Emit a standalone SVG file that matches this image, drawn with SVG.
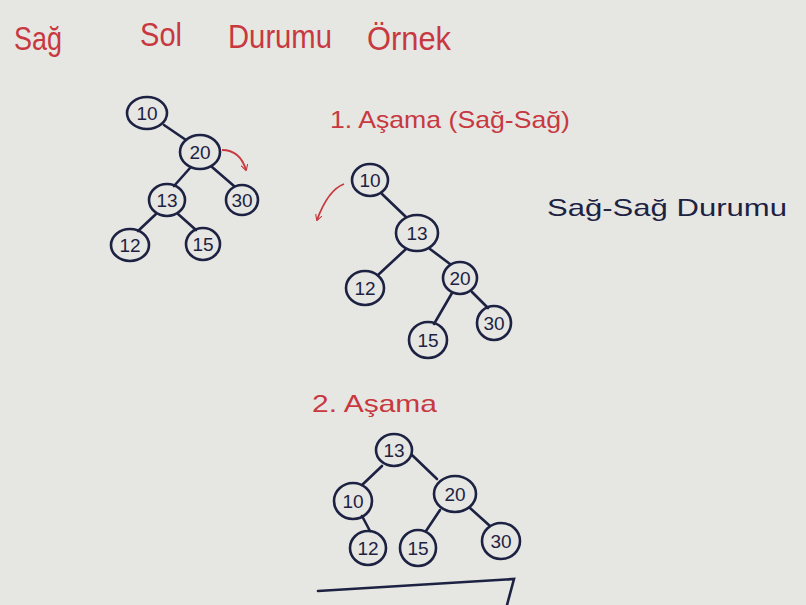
<svg xmlns="http://www.w3.org/2000/svg" width="806" height="605" viewBox="0 0 806 605">
<defs>
<marker id="ah" viewBox="0 0 10 10" refX="8" refY="5" markerWidth="7" markerHeight="7" orient="auto-start-reverse" markerUnits="userSpaceOnUse">
<path d="M0,0 L9,5 L0,10" fill="none" stroke="#c8383f" stroke-width="1.6"/>
</marker>
<style>
.bg{fill:#e6e6e3}
.n ellipse{fill:none;stroke:#1d2242;stroke-width:2.6}
.n text{font-family:"Liberation Sans",Arial,sans-serif;font-size:19px;fill:#1d2242;text-anchor:middle;dominant-baseline:central}
.e line,.e path{stroke:#1d2242;stroke-width:2.6;fill:none;stroke-linecap:round}
.red{font-family:"Liberation Sans",Arial,sans-serif;fill:#c8383f}
.blue{font-family:"Liberation Sans",Arial,sans-serif;fill:#1d2242}
.arr{fill:none;stroke:#c8383f;stroke-width:1.8;marker-end:url(#ah)}
</style>
</defs>
<rect class="bg" x="0" y="0" width="806" height="605"/>
<g id="title">
<text class="red" x="14" y="50" font-size="34" textLength="48" lengthAdjust="spacingAndGlyphs">Sağ</text>
<text class="red" x="140" y="46" font-size="34" textLength="42" lengthAdjust="spacingAndGlyphs">Sol</text>
<text class="red" x="228" y="48" font-size="34" textLength="104" lengthAdjust="spacingAndGlyphs">Durumu</text>
<text class="red" x="367" y="50" font-size="34" textLength="84" lengthAdjust="spacingAndGlyphs">Örnek</text>
</g>
<g id="label1"><text class="red" x="330" y="128" font-size="24" textLength="240" lengthAdjust="spacingAndGlyphs">1. Aşama (Sağ-Sağ)</text></g>
<g id="label2"><text class="blue" x="547" y="216" font-size="24" textLength="240" lengthAdjust="spacingAndGlyphs">Sağ-Sağ Durumu</text></g>
<g id="label3"><text class="red" x="312" y="412" font-size="24" textLength="125" lengthAdjust="spacingAndGlyphs">2. Aşama</text></g>
<g id="connectors" class="e">
<line x1="164" y1="125" x2="186" y2="140"/>
<line x1="190" y1="168" x2="174" y2="186"/>
<line x1="212" y1="167" x2="234" y2="186"/>
<line x1="156" y1="214" x2="138" y2="231"/>
<line x1="178" y1="214" x2="196" y2="230"/>
<line x1="382" y1="194" x2="406" y2="217"/>
<line x1="406" y1="249" x2="378" y2="275"/>
<line x1="430" y1="249" x2="450" y2="264"/>
<line x1="452" y1="293" x2="434" y2="324"/>
<line x1="472" y1="292" x2="488" y2="308"/>
<line x1="382" y1="466" x2="362" y2="485"/>
<line x1="412" y1="455" x2="437" y2="479"/>
<line x1="362" y1="516" x2="370" y2="531"/>
<line x1="440" y1="510" x2="426" y2="531"/>
<line x1="470" y1="508" x2="490" y2="526"/>
<path d="M318,591 L514,579 L507,605"/>
</g>
<g id="arrows">
<path class="arr" d="M222,150 Q240,150 246,170"/>
<path class="arr" d="M344,184 Q328,190 317,220"/>
</g>
<g id="t1-10" class="n"><ellipse cx="147" cy="113" rx="20" ry="16"/><text x="147" y="113">10</text></g>
<g id="t1-20" class="n"><ellipse cx="200" cy="152" rx="20" ry="17"/><text x="200" y="152">20</text></g>
<g id="t1-13" class="n"><ellipse cx="167" cy="200" rx="18" ry="16"/><text x="167" y="200">13</text></g>
<g id="t1-30" class="n"><ellipse cx="242" cy="200" rx="16" ry="15"/><text x="242" y="200">30</text></g>
<g id="t1-12" class="n"><ellipse cx="130" cy="245" rx="19" ry="16"/><text x="130" y="245">12</text></g>
<g id="t1-15" class="n"><ellipse cx="203" cy="244" rx="17" ry="16"/><text x="203" y="244">15</text></g>
<g id="t2-10" class="n"><ellipse cx="370" cy="180" rx="18" ry="16"/><text x="370" y="180">10</text></g>
<g id="t2-13" class="n"><ellipse cx="417" cy="233" rx="21" ry="18"/><text x="417" y="233">13</text></g>
<g id="t2-12" class="n"><ellipse cx="365" cy="288" rx="19" ry="17"/><text x="365" y="288">12</text></g>
<g id="t2-20" class="n"><ellipse cx="460" cy="278" rx="17" ry="16"/><text x="460" y="278">20</text></g>
<g id="t2-15" class="n"><ellipse cx="428" cy="340" rx="19" ry="18"/><text x="428" y="340">15</text></g>
<g id="t2-30" class="n"><ellipse cx="494" cy="323" rx="17" ry="17"/><text x="494" y="323">30</text></g>
<g id="t3-13" class="n"><ellipse cx="394" cy="450" rx="18" ry="16"/><text x="394" y="450">13</text></g>
<g id="t3-10" class="n"><ellipse cx="353" cy="501" rx="19" ry="18"/><text x="353" y="501">10</text></g>
<g id="t3-20" class="n"><ellipse cx="455" cy="494" rx="21" ry="18"/><text x="455" y="494">20</text></g>
<g id="t3-12" class="n"><ellipse cx="368" cy="548" rx="18" ry="17"/><text x="368" y="548">12</text></g>
<g id="t3-15" class="n"><ellipse cx="418" cy="548" rx="18" ry="18"/><text x="418" y="548">15</text></g>
<g id="t3-30" class="n"><ellipse cx="501" cy="541" rx="19" ry="18"/><text x="501" y="541">30</text></g>
</svg>
